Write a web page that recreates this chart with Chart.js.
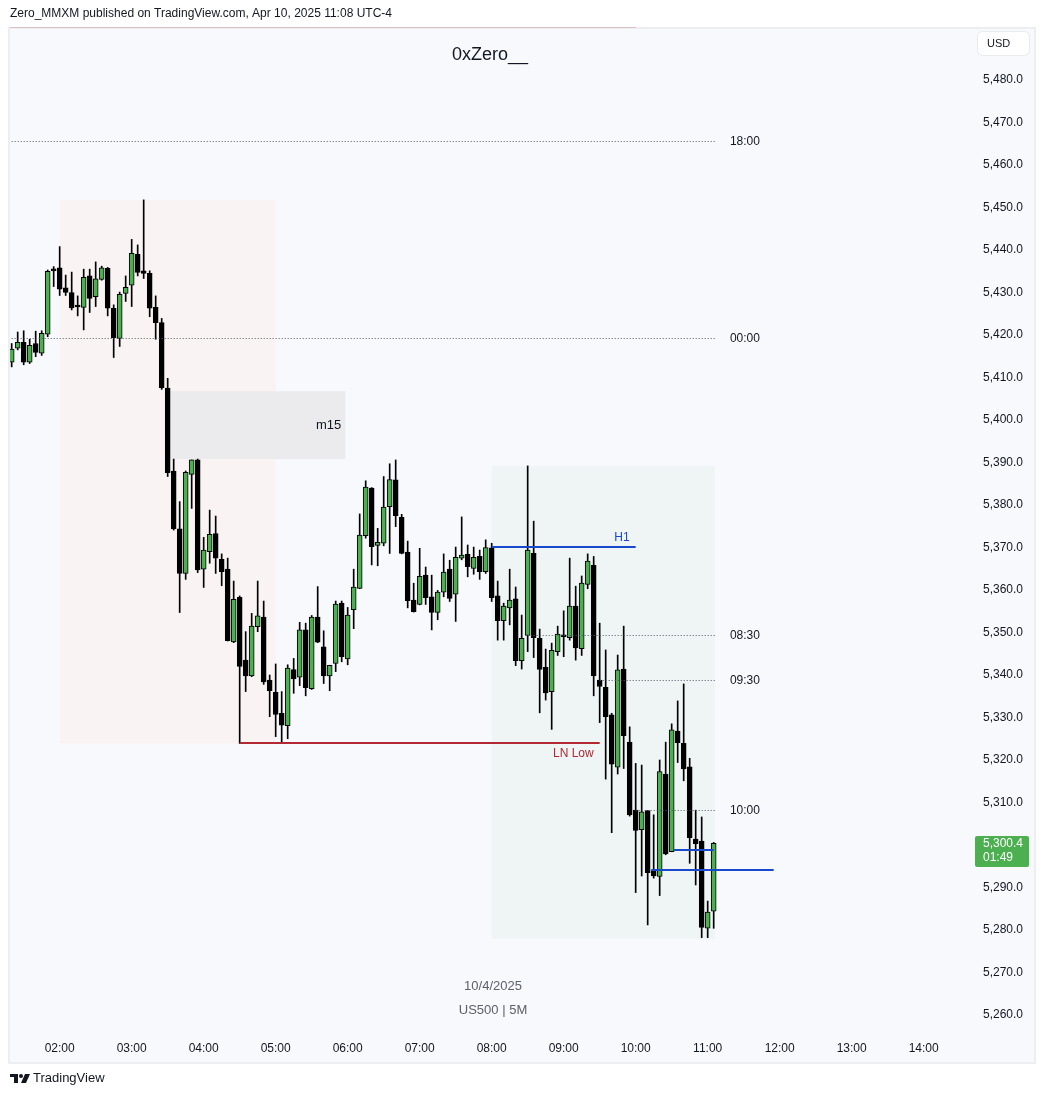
<!DOCTYPE html>
<html>
<head>
<meta charset="utf-8">
<script src="https://cdn.jsdelivr.net/npm/chart.js@4.4.1/dist/chart.umd.min.js"></script>
<style>
html, body { margin: 0; padding: 0; background: #ffffff; }
canvas { display: block; }
</style>
</head>
<body>
<canvas id="chart" width="1044" height="1096"></canvas>
<script>
// US500, 5 minute candles, 10/4/2025
const times = [
    '01:20', '01:25', '01:30', '01:35', '01:40', '01:45', '01:50', '01:55',
    '02:00', '02:05', '02:10', '02:15', '02:20', '02:25', '02:30', '02:35', '02:40', '02:45', '02:50', '02:55',
    '03:00', '03:05', '03:10', '03:15', '03:20', '03:25', '03:30', '03:35', '03:40', '03:45', '03:50', '03:55',
    '04:00', '04:05', '04:10', '04:15', '04:20', '04:25', '04:30', '04:35', '04:40', '04:45', '04:50', '04:55',
    '05:00', '05:05', '05:10', '05:15', '05:20', '05:25', '05:30', '05:35', '05:40', '05:45', '05:50', '05:55',
    '06:00', '06:05', '06:10', '06:15', '06:20', '06:25', '06:30', '06:35', '06:40', '06:45', '06:50', '06:55',
    '07:00', '07:05', '07:10', '07:15', '07:20', '07:25', '07:30', '07:35', '07:40', '07:45', '07:50', '07:55',
    '08:00', '08:05', '08:10', '08:15', '08:20', '08:25', '08:30', '08:35', '08:40', '08:45', '08:50', '08:55',
    '09:00', '09:05', '09:10', '09:15', '09:20', '09:25', '09:30', '09:35', '09:40', '09:45', '09:50', '09:55',
    '10:00', '10:05', '10:10', '10:15', '10:20', '10:25', '10:30', '10:35', '10:40', '10:45', '10:50', '10:55',
    '11:00', '11:05'
]

const opens = [
    5413.6, 5416.9, 5418.3, 5413.6, 5418.0, 5415.7, 5420.2, 5435.5,
    5435.8, 5431.1, 5430.0, 5426.8, 5426.5, 5433.9, 5429.0, 5433.1, 5435.7, 5426.3, 5419.2, 5429.8,
    5431.7, 5439.0, 5435.1, 5434.5, 5426.5, 5422.9, 5407.5, 5388.0, 5374.4, 5363.9, 5387.2, 5390.6,
    5364.9, 5369.0, 5373.3, 5367.2, 5364.9, 5347.8, 5358.3, 5343.5, 5339.8, 5351.4, 5353.6, 5338.8,
    5335.9, 5331.0, 5328.1, 5341.3, 5339.5, 5350.6, 5336.8, 5353.6, 5346.6, 5339.8, 5342.7, 5356.9,
    5343.8, 5355.4, 5360.4, 5372.8, 5384.0, 5370.5, 5371.0, 5379.6, 5385.9, 5377.1, 5368.9, 5357.6,
    5356.6, 5363.5, 5358.4, 5354.7, 5359.5, 5364.9, 5359.0, 5367.5, 5368.4, 5365.1, 5367.9, 5364.3,
    5369.9, 5358.6, 5352.8, 5355.8, 5357.9, 5343.4, 5349.3, 5368.6, 5348.6, 5341.8, 5336.1, 5345.5,
    5349.4, 5348.8, 5356.2, 5346.2, 5361.3, 5365.8, 5338.8, 5337.1, 5330.6, 5318.3, 5341.4, 5324.2,
    5308.2, 5303.6, 5308.1, 5294.0, 5292.6, 5316.7, 5298.4, 5326.8, 5323.9, 5318.4, 5301.4, 5300.9,
    5280.4, 5284.4
]

const highs = [
    5418.0, 5420.7, 5421.0, 5419.0, 5420.9, 5421.0, 5435.3, 5436.1,
    5440.8, 5434.1, 5434.8, 5429.2, 5435.5, 5435.5, 5437.2, 5436.2, 5435.9, 5427.1, 5430.1, 5433.9,
    5442.5, 5441.2, 5451.8, 5435.1, 5429.2, 5423.9, 5409.8, 5390.8, 5380.8, 5388.0, 5390.6, 5390.8,
    5372.4, 5378.8, 5377.4, 5368.5, 5367.5, 5362.1, 5358.6, 5350.2, 5354.5, 5362.1, 5357.4, 5340.0,
    5342.6, 5336.1, 5342.4, 5343.9, 5352.4, 5352.2, 5354.0, 5360.8, 5350.4, 5342.3, 5357.4, 5357.4,
    5355.9, 5364.9, 5377.9, 5385.7, 5384.1, 5374.5, 5386.7, 5389.7, 5390.6, 5377.8, 5371.5, 5361.6,
    5369.8, 5365.4, 5363.5, 5359.9, 5368.5, 5367.0, 5370.1, 5377.2, 5370.6, 5370.1, 5369.4, 5371.8,
    5371.0, 5362.1, 5356.9, 5364.9, 5360.7, 5354.1, 5389.2, 5376.2, 5350.8, 5346.1, 5347.5, 5351.5,
    5355.1, 5367.5, 5360.9, 5363.3, 5368.5, 5367.9, 5352.2, 5345.9, 5331.0, 5344.7, 5351.5, 5327.8,
    5319.2, 5318.8, 5308.1, 5307.1, 5320.0, 5324.2, 5328.5, 5333.9, 5337.9, 5320.4, 5308.2, 5306.6,
    5286.8, 5300.6
]

const lows = [
    5412.5, 5416.5, 5413.0, 5413.3, 5414.9, 5415.2, 5419.6, 5431.4,
    5429.3, 5429.3, 5425.9, 5424.5, 5421.2, 5425.3, 5426.7, 5432.9, 5424.5, 5414.7, 5417.3, 5427.9,
    5426.7, 5433.9, 5433.3, 5424.3, 5419.0, 5407.2, 5386.7, 5374.1, 5354.7, 5362.5, 5379.2, 5364.1,
    5360.6, 5366.3, 5363.9, 5361.0, 5348.0, 5347.6, 5323.9, 5336.1, 5339.6, 5350.2, 5337.8, 5330.2,
    5325.5, 5323.9, 5325.0, 5335.7, 5337.5, 5335.1, 5336.6, 5347.6, 5338.0, 5336.3, 5340.8, 5343.1,
    5342.4, 5350.9, 5360.3, 5372.2, 5365.9, 5365.7, 5370.4, 5368.6, 5374.9, 5368.5, 5355.8, 5354.8,
    5356.5, 5356.6, 5350.6, 5353.0, 5358.4, 5357.3, 5352.6, 5367.1, 5363.1, 5363.7, 5362.5, 5363.9,
    5357.3, 5348.2, 5348.2, 5351.8, 5342.2, 5341.4, 5345.5, 5344.1, 5331.1, 5334.1, 5327.2, 5344.6,
    5344.3, 5348.2, 5343.5, 5344.6, 5360.3, 5335.1, 5328.8, 5315.5, 5302.9, 5316.7, 5318.0, 5306.8,
    5288.8, 5292.7, 5281.2, 5292.2, 5288.1, 5297.7, 5298.4, 5319.4, 5315.1, 5295.7, 5290.6, 5278.2,
    5278.2, 5280.4
]

const closes = [
    5416.7, 5418.3, 5413.6, 5417.6, 5415.9, 5420.4, 5435.0, 5435.1,
    5430.8, 5430.0, 5426.4, 5426.6, 5433.6, 5428.6, 5433.2, 5435.8, 5426.3, 5419.4, 5429.6, 5431.2,
    5439.2, 5434.7, 5434.5, 5426.3, 5422.9, 5407.6, 5387.6, 5374.4, 5363.9, 5387.7, 5390.6, 5364.7,
    5369.4, 5373.1, 5367.5, 5364.3, 5348.1, 5357.8, 5342.0, 5339.8, 5351.5, 5353.9, 5338.4, 5336.3,
    5330.7, 5328.2, 5341.6, 5339.1, 5350.6, 5337.0, 5353.6, 5347.7, 5339.8, 5342.3, 5356.7, 5344.3,
    5354.1, 5360.7, 5372.9, 5384.2, 5370.2, 5371.2, 5379.5, 5386.0, 5377.5, 5368.6, 5357.5, 5354.9,
    5363.2, 5358.2, 5354.7, 5359.5, 5364.2, 5358.0, 5367.7, 5368.2, 5365.5, 5367.7, 5364.3, 5370.0,
    5358.2, 5352.8, 5356.2, 5357.6, 5343.4, 5348.6, 5369.4, 5348.8, 5341.3, 5335.8, 5345.8, 5349.6,
    5349.0, 5356.2, 5346.4, 5361.6, 5366.8, 5339.8, 5337.3, 5330.2, 5319.0, 5341.2, 5325.7, 5307.1,
    5303.4, 5307.8, 5293.5, 5292.7, 5317.3, 5297.9, 5327.1, 5324.1, 5317.9, 5301.7, 5300.3, 5280.6,
    5284.2, 5300.4
]

const hourLabels = ['02:00', '03:00', '04:00', '05:00', '06:00', '07:00', '08:00',
    '09:00', '10:00', '11:00', '12:00', '13:00', '14:00']

// boxes: pink range, m15 gap, NY morning range
const zoneStarts = ['02:00', '03:32', '08:00']
const zoneEnds = ['05:00', '05:58', '11:06']
const zoneTops = [5451.8, 5406.8, 5389.2]
const zoneBottoms = [5323.9, 5390.8, 5277.9]
const zoneNames = ['', 'm15', '']

// dotted time levels
const levelNames = ['18:00', '00:00', '08:30', '09:30', '10:00']
const levelPrices = [5465.6, 5419.3, 5349.4, 5338.8, 5308.2]
const levelStarts = ['01:00', '01:00', '08:30', '09:30', '10:00']
const levelEnd = '11:06'

// drawn lines
const lineNames = ['LN Low', 'H1', '', '']
const linePrices = [5323.9, 5370.1, 5298.8, 5294.0]
const lineStarts = ['04:30', '08:00', '10:32', '10:13']
const lineEnds = ['09:30', '10:00', '11:05', '11:55']

const lastPrice = 5300.4
const countdown = '01:49'

const FONT = '"Liberation Sans", Arial, sans-serif'
const GREEN = '#4caf50'
const TEXT = '#131722'
const zoneFills = ['#f9f3f4', '#ebebee', '#eff5f4']
const lineColors = ['#b22833', '#1848cc', '#1848cc', '#1848cc']

function toMin(s) {
    var p = s.split(':')
    return Number(p[0]) * 60 + Number(p[1])
}

function fmtTime(v) {
    var h = Math.floor(v / 60)
    var m = Math.round(v % 60)
    return String(h).padStart(2, '0') + ':' + String(m).padStart(2, '0')
}

function fmtPrice(v) {
    return v.toLocaleString('en-US', {minimumFractionDigits: 1, maximumFractionDigits: 1})
}

function font(size, weight) {
    return (weight || 'normal') + ' ' + size + 'px ' + FONT
}

const decor = {
    id: 'decor',
    beforeDraw(chart) {
        var c = chart.ctx
        c.save()
        c.fillStyle = '#ffffff'
        c.fillRect(0, 0, chart.width, chart.height)
        // pane
        c.fillStyle = '#f8f9fc'
        c.fillRect(10, 28, 1024, 1034)
        c.strokeStyle = '#eceef2'
        c.lineWidth = 2
        c.strokeRect(9, 28, 1026, 1035)
        c.strokeStyle = '#dcbfc2'
        c.lineWidth = 1
        c.beginPath()
        c.moveTo(10, 27.5)
        c.lineTo(636, 27.5)
        c.stroke()
        // header
        c.fillStyle = TEXT
        c.font = font(12)
        c.textBaseline = 'middle'
        c.textAlign = 'left'
        c.fillText('Zero_MMXM published on TradingView.com, Apr 10, 2025 11:08 UTC-4', 10, 14)
        // footer logo
        c.fillRect(10, 1074, 8, 3)
        c.fillRect(14, 1074, 4, 9)
        c.beginPath()
        c.arc(21, 1076, 2, 0, Math.PI * 2)
        c.fill()
        c.beginPath()
        c.moveTo(25, 1074)
        c.lineTo(30, 1074)
        c.lineTo(26, 1083)
        c.lineTo(21, 1083)
        c.closePath()
        c.fill()
        c.font = font(13)
        c.fillText('TradingView', 33, 1078)
        c.restore()
    },
    beforeDatasetsDraw(chart) {
        var c = chart.ctx
        var xs = chart.scales.x
        var ys = chart.scales.y
        var area = chart.chartArea
        c.save()
        c.beginPath()
        c.rect(area.left, area.top, area.right - area.left, area.bottom - area.top)
        c.clip()
        for (let i = 0; i < zoneStarts.length; i++) {
            var x0 = xs.getPixelForValue(toMin(zoneStarts[i]))
            var x1 = xs.getPixelForValue(toMin(zoneEnds[i]))
            var y0 = ys.getPixelForValue(zoneTops[i])
            var y1 = ys.getPixelForValue(zoneBottoms[i])
            c.fillStyle = zoneFills[i]
            c.fillRect(x0, y0, x1 - x0, y1 - y0)
            if (zoneNames[i]) {
                c.fillStyle = TEXT
                c.font = font(13)
                c.textAlign = 'right'
                c.textBaseline = 'middle'
                c.fillText(zoneNames[i], x1 - 4, (y0 + y1) / 2)
            }
        }
        // watermark texts
        var cx = (area.left + area.right) / 2
        c.textAlign = 'center'
        c.textBaseline = 'middle'
        c.fillStyle = '#131722'
        c.font = font(18)
        c.fillText('0xZero__', cx, 55)
        c.fillStyle = '#5d606b'
        c.font = font(13)
        c.fillText('10/4/2025', cx + 3, 986)
        c.fillText('US500 | 5M', cx + 3, 1010)
        c.restore()
    },
    afterDatasetsDraw(chart) {
        var c = chart.ctx
        var xs = chart.scales.x
        var ys = chart.scales.y
        var area = chart.chartArea
        c.save()
        c.beginPath()
        c.rect(area.left, area.top, area.right - area.left, area.bottom - area.top)
        c.clip()
        // dotted levels
        c.font = font(12)
        for (let i = 0; i < levelNames.length; i++) {
            var y = Math.round(ys.getPixelForValue(levelPrices[i])) + 0.5
            var x0 = xs.getPixelForValue(toMin(levelStarts[i]))
            var x1 = xs.getPixelForValue(toMin(levelEnd))
            c.strokeStyle = '#555a66'
            c.lineWidth = 1
            c.setLineDash([1, 2])
            c.beginPath()
            c.moveTo(x0, y)
            c.lineTo(x1, y)
            c.stroke()
            c.setLineDash([])
            c.fillStyle = TEXT
            c.textAlign = 'left'
            c.textBaseline = 'middle'
            c.fillText(levelNames[i], x1 + 15, y)
        }
        // drawn lines
        for (let i = 0; i < lineNames.length; i++) {
            var y = Math.round(ys.getPixelForValue(linePrices[i]))
            var x0 = xs.getPixelForValue(toMin(lineStarts[i]))
            var x1 = xs.getPixelForValue(toMin(lineEnds[i]))
            c.strokeStyle = lineColors[i]
            c.lineWidth = 2
            c.beginPath()
            c.moveTo(x0, y)
            c.lineTo(x1, y)
            c.stroke()
            if (lineNames[i]) {
                c.fillStyle = lineColors[i]
                c.font = font(12)
                c.textAlign = 'right'
                if (linePrices[i] < 5330) {
                    c.textBaseline = 'top'
                    c.fillText(lineNames[i], x1 - 6, y + 5)
                } else {
                    c.textBaseline = 'bottom'
                    c.fillText(lineNames[i], x1 - 6, y - 3)
                }
            }
        }
        c.restore()

        // axis extras
        c.save()
        c.fillStyle = '#ffffff'
        c.strokeStyle = '#e8eaee'
        c.lineWidth = 1
        c.beginPath()
        c.roundRect(977.5, 31.5, 52, 24, 5)
        c.fill()
        c.stroke()
        c.fillStyle = TEXT
        c.font = font(11)
        c.textAlign = 'left'
        c.textBaseline = 'middle'
        c.fillText('USD', 987, 44)

        var py = ys.getPixelForValue(lastPrice)
        c.fillStyle = GREEN
        c.beginPath()
        c.roundRect(975, Math.round(py) - 7, 54, 31, 2)
        c.fill()
        c.fillStyle = '#ffffff'
        c.font = font(12)
        c.fillText(fmtPrice(lastPrice), 983, Math.round(py) + 1)
        c.fillText(countdown, 983, Math.round(py) + 15)
        c.restore()
    }
}

const ctx = document.getElementById('chart').getContext('2d')

const chart = new Chart(ctx, {
    type: 'bar',
    data: {
        datasets: [
            {
                label: 'wicks',
                data: times.map((t, i) => ({x: toMin(t), y: [lows[i], highs[i]]})),
                backgroundColor: '#000000',
                barThickness: 1,
                grouped: false,
                order: 2,
            },
            {
                label: 'bodies',
                data: times.map((t, i) => ({x: toMin(t), y: [opens[i], closes[i]]})),
                backgroundColor: (c) => closes[c.dataIndex] >= opens[c.dataIndex] ? GREEN : '#000000',
                borderColor: '#000000',
                borderWidth: 1,
                borderSkipped: false,
                barThickness: 5,
                minBarLength: 2,
                grouped: false,
                order: 1,
            },
        ],
    },
    options: {
        responsive: false,
        animation: false,
        layout: {padding: {left: 10, top: 28, right: 10, bottom: 34}},
        plugins: {
            legend: {display: false},
            tooltip: {enabled: false},
        },
        scales: {
            x: {
                type: 'linear',
                min: 78.6,
                max: 878.6,
                offset: false,
                grid: {display: false, drawTicks: false},
                border: {display: false},
                afterBuildTicks: (scale) => {
                    scale.ticks = hourLabels.map(l => ({value: toMin(l)}))
                },
                afterFit: (scale) => { scale.height = 27 },
                ticks: {
                    autoSkip: false,
                    maxRotation: 0,
                    padding: 6,
                    color: TEXT,
                    font: {family: FONT, size: 12},
                    callback: (v) => fmtTime(v),
                },
            },
            y: {
                position: 'right',
                min: 5255.29,
                max: 5492.24,
                grid: {display: false, drawTicks: false},
                border: {display: false},
                afterFit: (scale) => { scale.width = 64 },
                ticks: {
                    stepSize: 10,
                    includeBounds: false,
                    padding: 13,
                    color: TEXT,
                    font: {family: FONT, size: 12},
                    callback: (v) => fmtPrice(v),
                },
            },
        },
    },
    plugins: [decor],
})
</script>
</body>
</html>
